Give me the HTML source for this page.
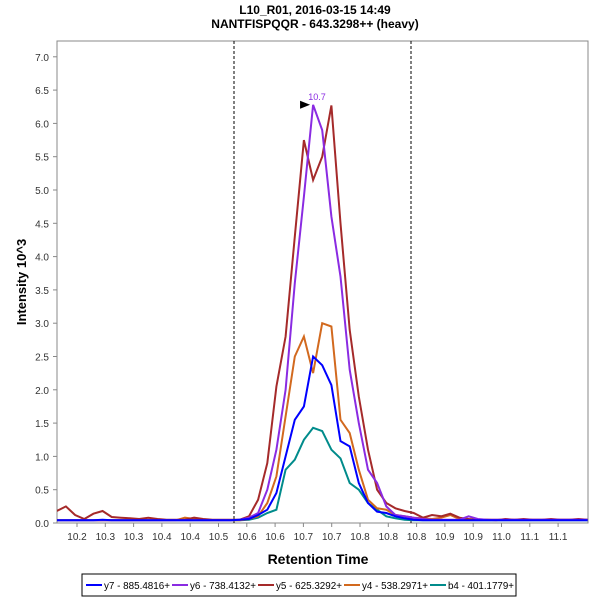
<!DOCTYPE html>
<html><head><meta charset="utf-8"><style>
body{margin:0;background:#fff;font-family:"Liberation Sans",sans-serif}
svg text{font-family:"Liberation Sans",sans-serif}
</style></head><body>
<svg id="c" width="600" height="600" xmlns="http://www.w3.org/2000/svg">
<text x="315" y="14" font-size="12" font-weight="bold" text-anchor="middle">L10_R01, 2016-03-15 14:49</text>
<text x="315" y="28" font-size="12" font-weight="bold" text-anchor="middle">NANTFISPQQR - 643.3298++ (heavy)</text>
<rect x="57" y="41" width="531" height="482" fill="#fff" stroke="#888"/>
<text x="318" y="564" font-size="14" font-weight="bold" text-anchor="middle">Retention Time</text>
<text transform="translate(26,282) rotate(-90)" font-size="13" font-weight="bold" text-anchor="middle">Intensity 10^3</text>
<g id="ax"></g><g id="ser"></g>
<rect x="82" y="574" width="434" height="22" fill="#fff" stroke="#000"/>
<g id="leg"></g>
</svg>
<script>
const yTicks=[0,0.5,1,1.5,2,2.5,3,3.5,4,4.5,5,5.5,6,6.5,7];
const xTickLabels=["10.2","10.3","10.3","10.4","10.4","10.5","10.6","10.6","10.7","10.7","10.8","10.8","10.8","10.9","10.9","11.0","11.1","11.1"];
const y7=[0.04,0.04,0.04,0.04,0.04,0.05,0.04,0.04,0.04,0.04,0.04,0.04,0.04,0.04,0.04,0.04,0.04,0.04,0.04,0.04,0.05,0.06,0.12,0.2,0.45,1.0,1.55,1.75,2.5,2.37,2.07,1.23,1.15,0.6,0.3,0.17,0.15,0.1,0.07,0.05,0.04,0.04,0.04,0.04,0.04,0.04,0.04,0.04,0.04,0.04,0.04,0.04,0.04,0.04,0.04,0.04,0.04,0.04,0.04];
const y6=[0.04,0.04,0.04,0.04,0.04,0.04,0.04,0.04,0.04,0.04,0.04,0.04,0.04,0.04,0.04,0.04,0.04,0.04,0.04,0.04,0.05,0.08,0.15,0.5,1.1,2.0,3.6,4.9,6.28,5.9,4.6,3.7,2.3,1.5,0.8,0.6,0.25,0.12,0.1,0.08,0.06,0.05,0.05,0.05,0.05,0.1,0.06,0.05,0.05,0.05,0.05,0.05,0.05,0.05,0.05,0.05,0.05,0.05,0.05];
const y5=[0.18,0.25,0.12,0.06,0.14,0.18,0.09,0.08,0.07,0.06,0.08,0.06,0.05,0.05,0.05,0.08,0.06,0.05,0.05,0.05,0.05,0.1,0.35,0.9,2.05,2.8,4.3,5.75,5.15,5.5,6.27,4.5,2.9,1.9,1.1,0.5,0.3,0.22,0.18,0.15,0.08,0.12,0.1,0.14,0.08,0.06,0.05,0.05,0.04,0.06,0.05,0.06,0.05,0.05,0.06,0.05,0.05,0.06,0.05];
const y4=[0.04,0.04,0.04,0.04,0.04,0.04,0.04,0.04,0.04,0.04,0.04,0.04,0.04,0.04,0.08,0.06,0.04,0.04,0.04,0.04,0.04,0.06,0.1,0.3,0.7,1.6,2.5,2.8,2.25,3.0,2.95,1.55,1.35,0.8,0.35,0.22,0.2,0.12,0.1,0.08,0.07,0.06,0.08,0.12,0.06,0.05,0.05,0.05,0.05,0.05,0.05,0.05,0.05,0.05,0.05,0.05,0.05,0.05,0.05];
const b4=[0.04,0.04,0.04,0.04,0.04,0.04,0.04,0.04,0.04,0.04,0.04,0.04,0.04,0.04,0.04,0.04,0.04,0.04,0.04,0.04,0.04,0.05,0.08,0.15,0.2,0.8,0.95,1.25,1.43,1.38,1.1,0.97,0.6,0.5,0.3,0.2,0.1,0.07,0.05,0.04,0.04,0.04,0.04,0.04,0.04,0.04,0.04,0.04,0.04,0.04,0.04,0.04,0.04,0.04,0.04,0.04,0.04,0.04,0.04];
const t0=10.1643, dt=0.01617;
const times=y7.map((_,i)=>t0+i*dt);
const NS="http://www.w3.org/2000/svg";
const X=t=>77+(t-10.2)/0.05*28.3;
const Y=v=>523-v*66.6;
function mk(tag,at,par){const e=document.createElementNS(NS,tag);for(const k in at)e.setAttribute(k,at[k]);par.appendChild(e);return e;}
const ax=document.getElementById('ax');
yTicks.forEach(v=>{
 const l=mk('line',{x1:53,x2:57,y1:Y(v),y2:Y(v),stroke:'#888'},ax);
 
 
 const t=mk('text',{x:49,y:Y(v)+4,'font-size':10,'text-anchor':'end',fill:'#333'},ax);t.textContent=v.toFixed(1);
 
 
});
xTickLabels.forEach((s,i)=>{
 const x=X(10.2+i*0.05);
 const l=mk('line',{x1:x,x2:x,y1:523,y2:527,stroke:'#888'},ax);
 
 
 const t=mk('text',{x:x,y:540,'font-size':10,'text-anchor':'middle',fill:'#333'},ax);t.textContent=s;
 
 
});
[234,411].forEach(x=>{
 const l=mk('line',{x1:x,x2:x,y1:41,y2:523,stroke:'#000','stroke-dasharray':'3,2','stroke-width':1},ax);
 
 
});
const ser=document.getElementById('ser');
const cp=mk('clipPath',{id:'cp'},ser);mk('rect',{x:57,y:41,width:531,height:482},cp);
const series=[["y7 - 885.4816+",y7,"#0000ff"],["y6 - 738.4132+",y6,"#8a2be2"],["y5 - 625.3292+",y5,"#a52a2a"],["y4 - 538.2971+",y4,"#d2691e"],["b4 - 401.1779+",b4,"#008b8b"]];
[...series].reverse().forEach(([n,d,c])=>{
 const p=mk('polyline',{points:d.map((v,i)=>X(times[i]).toFixed(1)+','+Y(v).toFixed(1)).join(' '),fill:'none',stroke:c,'stroke-width':2,'clip-path':'url(#cp)'},ser);
 
 
});
const pk=y6.indexOf(Math.max(...y6));
const px=X(times[pk]),py=Y(y6[pk]);
const ar=mk('polygon',{points:`${px-13},${py-4} ${px-3},${py} ${px-13},${py+4}`,fill:'#000'},ser);


const pl=mk('text',{x:px+4,y:py-5,'font-size':9,fill:'#8a2be2','text-anchor':'middle'},ser);pl.textContent='10.7';


const leg=document.getElementById('leg');
const lx=[86,172,258,344,430];
series.forEach(([n,d,c],i)=>{
 const g=mk('g',{},leg);
 
 
 mk('line',{x1:lx[i],x2:lx[i]+16,y1:585,y2:585,stroke:c,'stroke-width':2},g);
 const t=mk('text',{x:lx[i]+18,y:589,'font-size':10,textLength:66,lengthAdjust:'spacingAndGlyphs'},g);t.textContent=n;
});
</script>
</body></html>
